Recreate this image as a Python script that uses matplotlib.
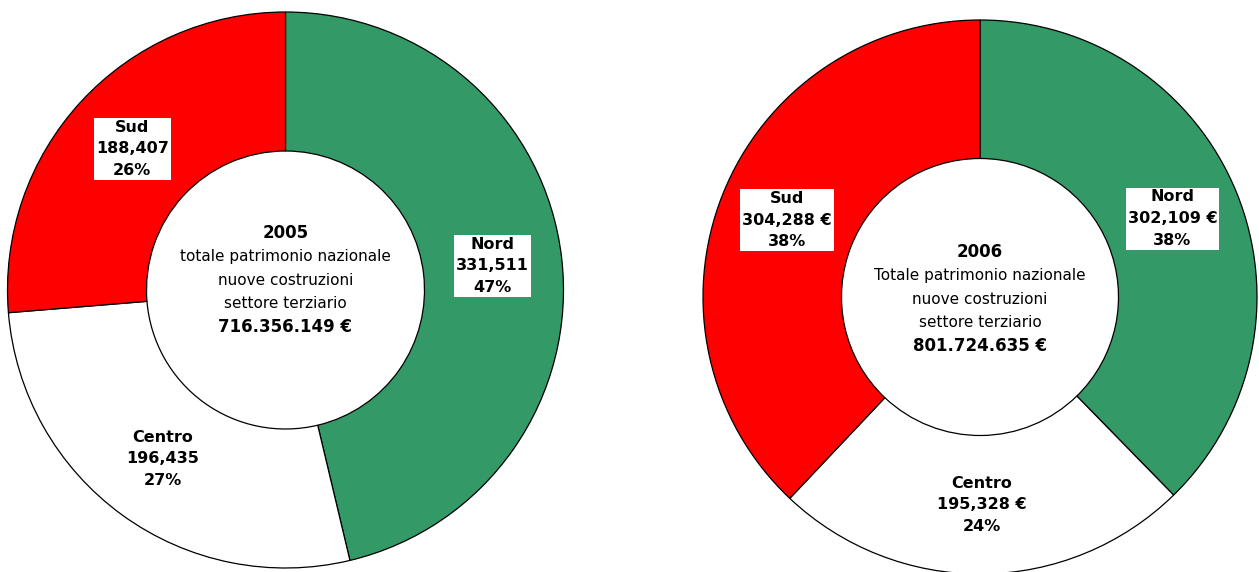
import numpy as np
import matplotlib.pyplot as plt

# dati (migliaia di euro)
regions = ['Nord', 'Centro', 'Sud']
colors = ['#339966', '#ffffff', '#ff0000']

values_2005 = [331511, 196435, 188407]
labels_2005 = ['Nord\n331,511\n47%', 'Centro\n196,435\n27%', 'Sud\n188,407\n26%']
center_2005 = ['2005', 'totale patrimonio nazionale', 'nuove costruzioni',
               'settore terziario', '716.356.149 €']

values_2006 = [302109, 195328, 304288]
labels_2006 = ['Nord\n302,109 €\n38%', 'Centro\n195,328 €\n24%', 'Sud\n304,288 €\n38%']
center_2006 = ['2006', 'Totale patrimonio nazionale', 'nuove costruzioni',
               'settore terziario', '801.724.635 €']

W, H = 1259, 572
fig = plt.figure(figsize=(W / 100, H / 100), dpi=100)


def donut(cx, cy, R, values, labels, center_lines, center_dy):
    # assi posizionati in pixel: centro (cx, cy) dall'alto, raggio R
    ax = fig.add_axes([(cx - R) / W, (H - cy - R) / H, 2 * R / W, 2 * R / H])
    wedges, _ = ax.pie(values, colors=colors, startangle=90, counterclock=False,
                       radius=1, wedgeprops=dict(width=0.5, edgecolor='black', linewidth=0.9))
    ax.set_xlim(-1, 1)
    ax.set_ylim(-1, 1)
    ax.axis('off')
    for w, lab, reg in zip(wedges, labels, regions):
        mid = np.deg2rad((w.theta1 + w.theta2) / 2)
        x, y = 0.75 * np.cos(mid), 0.75 * np.sin(mid)
        box = None
        if reg != 'Centro':
            box = dict(boxstyle='square,pad=0.12', facecolor='white', edgecolor='none')
        ax.text(x, y, lab, ha='center', va='center', fontsize=11.5, fontweight='bold',
                linespacing=1.55, bbox=box, multialignment='center')
    n = len(center_lines)
    for i, line in enumerate(center_lines):
        bold = i in (0, n - 1)
        ax.annotate(line, xy=(0, center_dy), xytext=(0, (n // 2 - i) * 16.9),
                    textcoords='offset points', ha='center', va='center',
                    fontsize=12 if bold else 11, fontweight='bold' if bold else 'normal')
    return ax


donut(285.5, 290, 278, values_2005, labels_2005, center_2005, 0.035)
donut(980, 297, 277, values_2006, labels_2006, center_2006, -0.008)

fig.savefig('out.png', dpi=100, facecolor='white')
